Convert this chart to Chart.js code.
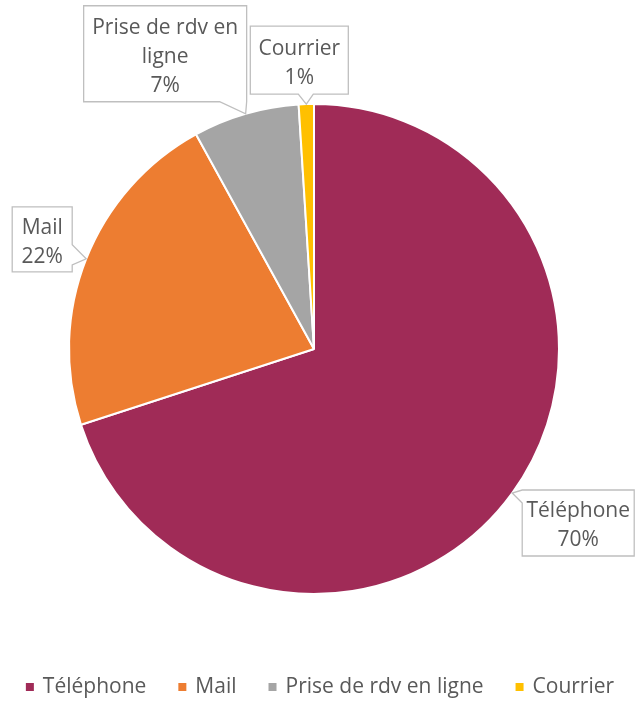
<!DOCTYPE html>
<html>
<head>
<meta charset="utf-8">
<script src="https://cdn.jsdelivr.net/npm/chart.js@4"></script>
<style>
  html, body { margin: 0; padding: 0; background: #fff; }
  #wrap { width: 636px; height: 704px; position: relative; }
</style>
</head>
<body>
<div id="wrap"><canvas id="chrtCanaux"></canvas></div>
<script>
(function(){

// canaux de prise de contact (en %)
const categories = ["Téléphone", "Mail", "Prise de rdv en ligne", "Courrier"];
const valeurs = [70, 22, 7, 1];
const couleurs = ["#A02B57", "#ED7D31", "#A5A5A5", "#FFC000"];

const FONT = "'Open Sans', sans-serif";
const TXT = "#595959";

//----boites des etiquettes, placees par rapport a la pointe (bord de la part)
//----dx/dy = coin haut gauche, b0/b1 = base du bec sur le cote "side"
const bulles = [
    { dx: 10,   dy: -3,   w: 112, h: 66, side: "left",   b0: 0,   b1: 13 },
    { dx: -74,  dy: -52,  w: 60,  h: 65, side: "right",  b0: 38,  b1: 58 },
    { dx: -162, dy: -108, w: 163, h: 96, side: "bottom", b0: 136, b1: 163 },
    { dx: -56,  dy: -78,  w: 98,  h: 68, side: "bottom", b0: 48,  b1: 63 }
];

function couper(ctx, texte, maxW){
    const mots = texte.split(" ");
    let lignes = [];
    let cur = "";
    mots.forEach(m => {
        const essai = cur ? cur + " " + m : m;
        if (cur && ctx.measureText(essai).width > maxW) {
            lignes.push(cur);
            cur = m;
        } else {
            cur = essai;
        }
    });
    if (cur) lignes.push(cur);
    return lignes;
}

function traceBulle(ctx, l, t, w, h, side, b0, b1, tip){
    const r = l + w, b = t + h;
    ctx.beginPath();
    ctx.moveTo(l, t);
    ctx.lineTo(r, t);
    if (side === "right") {
        ctx.lineTo(r, t + b0);
        ctx.lineTo(tip.x, tip.y);
        ctx.lineTo(r, t + b1);
    }
    ctx.lineTo(r, b);
    if (side === "bottom") {
        ctx.lineTo(l + b1, b);
        ctx.lineTo(tip.x, tip.y);
        ctx.lineTo(l + b0, b);
    }
    ctx.lineTo(l, b);
    if (side === "left") {
        ctx.lineTo(l, t + b1);
        ctx.lineTo(tip.x, tip.y);
        ctx.lineTo(l, t + b0);
    }
    ctx.closePath();
}

//----etiquettes en bulle + legende
const pluginEtiquettes = {
    id: "etiquettes",
    afterDatasetsDraw(chart){
        const ctx = chart.ctx;
        const meta = chart.getDatasetMeta(0);
        ctx.save();
        ctx.font = "21px " + FONT;
        meta.data.forEach((arc, i) => {
            const p = arc.getProps(["x", "y", "startAngle", "endAngle", "outerRadius"], true);
            const mid = (p.startAngle + p.endAngle) / 2;
            const tip = {
                x: p.x + Math.cos(mid) * p.outerRadius,
                y: p.y + Math.sin(mid) * p.outerRadius
            };
            const bl = bulles[i];
            const l = tip.x + bl.dx, t = tip.y + bl.dy;

            traceBulle(ctx, l, t, bl.w, bl.h, bl.side, bl.b0, bl.b1, tip);
            ctx.fillStyle = "#fff";
            ctx.fill();
            ctx.strokeStyle = "#BFBFBF";
            ctx.lineWidth = 1.3;
            ctx.stroke();

            const lignes = couper(ctx, categories[i], bl.w - 8);
            lignes.push(valeurs[i] + "%");
            const lh = 29;
            const y0 = t + bl.h / 2 + 3 - (lignes.length - 1) * lh / 2;
            ctx.fillStyle = TXT;
            ctx.textAlign = "center";
            ctx.textBaseline = "middle";
            lignes.forEach((s, k) => ctx.fillText(s, l + bl.w / 2, y0 + k * lh));
        });
        ctx.restore();
    },
    afterDraw(chart){
        const ctx = chart.ctx;
        ctx.save();
        ctx.font = "21px " + FONT;
        const carre = 8, ecart = 9, entre = 32;
        const larg = categories.map(c => ctx.measureText(c).width);
        const total = larg.reduce((a, b) => a + b + carre + ecart, 0) + entre * (categories.length - 1);
        let x = chart.width / 2 - total / 2 + 2;
        const y = 687;
        ctx.textAlign = "left";
        ctx.textBaseline = "middle";
        categories.forEach((c, i) => {
            ctx.fillStyle = couleurs[i];
            ctx.fillRect(x, y - carre / 2, carre, carre);
            x += carre + ecart;
            ctx.fillStyle = TXT;
            ctx.fillText(c, x, y);
            x += larg[i] + entre;
        });
        ctx.restore();
    }
};

const ctx = document.querySelector("#chrtCanaux");

let myChart = new Chart(ctx, {
    type: "pie",
    data: {
        labels: categories,
        datasets: [{
            data: valeurs,
            backgroundColor: couleurs,
            borderColor: "#fff",
            borderWidth: 2
        }]
    },
    options: {
        responsive: true,
        maintainAspectRatio: false,
        animation: false,
        layout: { padding: { left: 68, right: 76, top: 103, bottom: 109 } },
        plugins: {
            legend: { display: false },
            tooltip: { enabled: false }
        }
    },
    plugins: [pluginEtiquettes]
});

})();
</script>
</body>
</html>
